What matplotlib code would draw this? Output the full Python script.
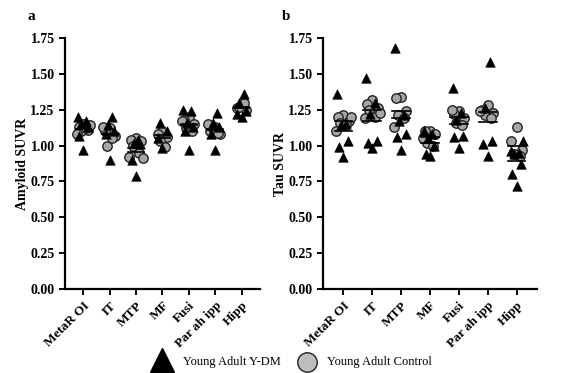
import numpy as np
import matplotlib
matplotlib.use("Agg")
import matplotlib.pyplot as plt
from matplotlib.lines import Line2D

plt.rcParams['font.family'] = ['Liberation Serif', 'DejaVu Serif']

regions = ["MetaR OI", "IT", "MTP", "MF", "Fusi", "Par ah ipp", "Hipp"]
yticks = [0.00, 0.25, 0.50, 0.75, 1.00, 1.25, 1.50, 1.75]

amy_ydm = [
    [1.20, 1.17, 1.15, 1.13, 1.07, 0.97],
    [1.20, 1.14, 1.10, 1.08, 0.90],
    [1.04, 1.02, 1.01, 0.90, 0.79],
    [1.16, 1.10, 1.05, 0.98],
    [1.25, 1.24, 1.16, 1.13, 1.10, 0.97],
    [1.23, 1.16, 1.13, 1.08, 0.97],
    [1.36, 1.30, 1.24, 1.22, 1.20],
]
amy_ctrl = [
    [1.15, 1.13, 1.11, 1.10, 1.12, 1.08, 1.14],
    [1.12, 1.10, 1.07, 1.00, 1.05, 1.13],
    [1.05, 1.04, 1.03, 1.00, 0.95, 0.92, 0.91],
    [1.10, 1.08, 1.06, 1.03, 0.99],
    [1.20, 1.18, 1.15, 1.12, 1.10, 1.17],
    [1.13, 1.10, 1.08, 1.12, 1.09, 1.15],
    [1.28, 1.26, 1.25, 1.27, 1.30],
]
tau_ydm = [
    [1.36, 1.15, 1.14, 1.03, 0.99, 0.92],
    [1.47, 1.30, 1.22, 1.03, 1.02, 0.98],
    [1.68, 1.21, 1.17, 1.08, 1.06, 0.97],
    [1.10, 1.08, 1.05, 1.00, 0.94, 0.93],
    [1.40, 1.23, 1.18, 1.07, 1.06, 0.98],
    [1.58, 1.26, 1.03, 1.01, 0.93],
    [1.03, 0.96, 0.95, 0.94, 0.87, 0.80, 0.72],
]
tau_ctrl = [
    [1.21, 1.20, 1.17, 1.16, 1.14, 1.10, 1.20],
    [1.32, 1.29, 1.26, 1.25, 1.20, 1.19, 1.23],
    [1.34, 1.33, 1.24, 1.21, 1.19, 1.13],
    [1.10, 1.10, 1.08, 1.02, 1.00, 1.05],
    [1.24, 1.22, 1.19, 1.16, 1.14, 1.25],
    [1.28, 1.25, 1.23, 1.21, 1.19, 1.24],
    [1.13, 1.03, 0.97, 0.94, 0.93],
]

W, H = 569, 373
fig = plt.figure(figsize=(W / 100, H / 100), dpi=100)

jit = np.array([0.0, -0.22, 0.22, -0.12, 0.12, -0.3, 0.3, 0.05])

def panel(rect, ydm, ctrl, ylabel, letter):
    ax = fig.add_axes(rect)
    for i in range(len(regions)):
        c = np.array(ctrl[i])
        t = np.array(ydm[i])
        ax.scatter(i + jit[:len(c)] * 0.85, c, s=46, marker='o',
                   facecolor='#a6a6a6', edgecolor='#222222', linewidth=1.0, zorder=3)
        ax.scatter(i + jit[:len(t)][::-1] * 0.7, t, s=46, marker='^',
                   facecolor='black', edgecolor='black', linewidth=0.5, zorder=4)
        for vals in (c, t):
            m = vals.mean()
            ax.plot([i - 0.3, i + 0.3], [m, m], color='black', lw=1.2, zorder=5)
    ax.set_xlim(-0.7, 6.7)
    ax.set_ylim(0, 1.75)
    ax.set_yticks(yticks)
    ax.set_yticklabels([f"{v:.2f}" for v in yticks], fontweight='bold', fontsize=10)
    ax.set_xticks(range(len(regions)))
    ax.set_xticklabels(regions, rotation=45, ha='right', rotation_mode='anchor',
                       fontweight='bold', fontsize=9.5)
    for s in ['top', 'right']:
        ax.spines[s].set_visible(False)
    for s in ['left', 'bottom']:
        ax.spines[s].set_linewidth(1.6)
    ax.tick_params(width=1.4, length=4, direction='out')
    ax.set_ylabel(ylabel, fontweight='bold', fontsize=10, labelpad=1)
    ax.text(-0.19, 1.07, letter, transform=ax.transAxes, fontweight='bold', fontsize=11)
    return ax

panel([65 / W, 1 - 289 / H, 195 / W, 251 / H], amy_ydm, amy_ctrl, "Amyloid SUVR", "a")
panel([323 / W, 1 - 289 / H, 214 / W, 251 / H], tau_ydm, tau_ctrl, "Tau SUVR", "b")

fig.add_artist(Line2D([162 / W], [1 - 360 / H], marker='^', markersize=17, color='black',
                      linestyle='none', transform=fig.transFigure))
fig.text(183 / W, 1 - 362 / H, "Young Adult Y-DM", fontsize=9, va='center')
fig.add_artist(Line2D([307 / W], [1 - 362 / H], marker='o', markersize=14,
                      markerfacecolor='#bdbdbd', markeredgecolor='#222222', markeredgewidth=1.0,
                      linestyle='none', transform=fig.transFigure))
fig.text(327 / W, 1 - 362 / H, "Young Adult Control", fontsize=9, va='center')

fig.savefig("out.png", dpi=100)
